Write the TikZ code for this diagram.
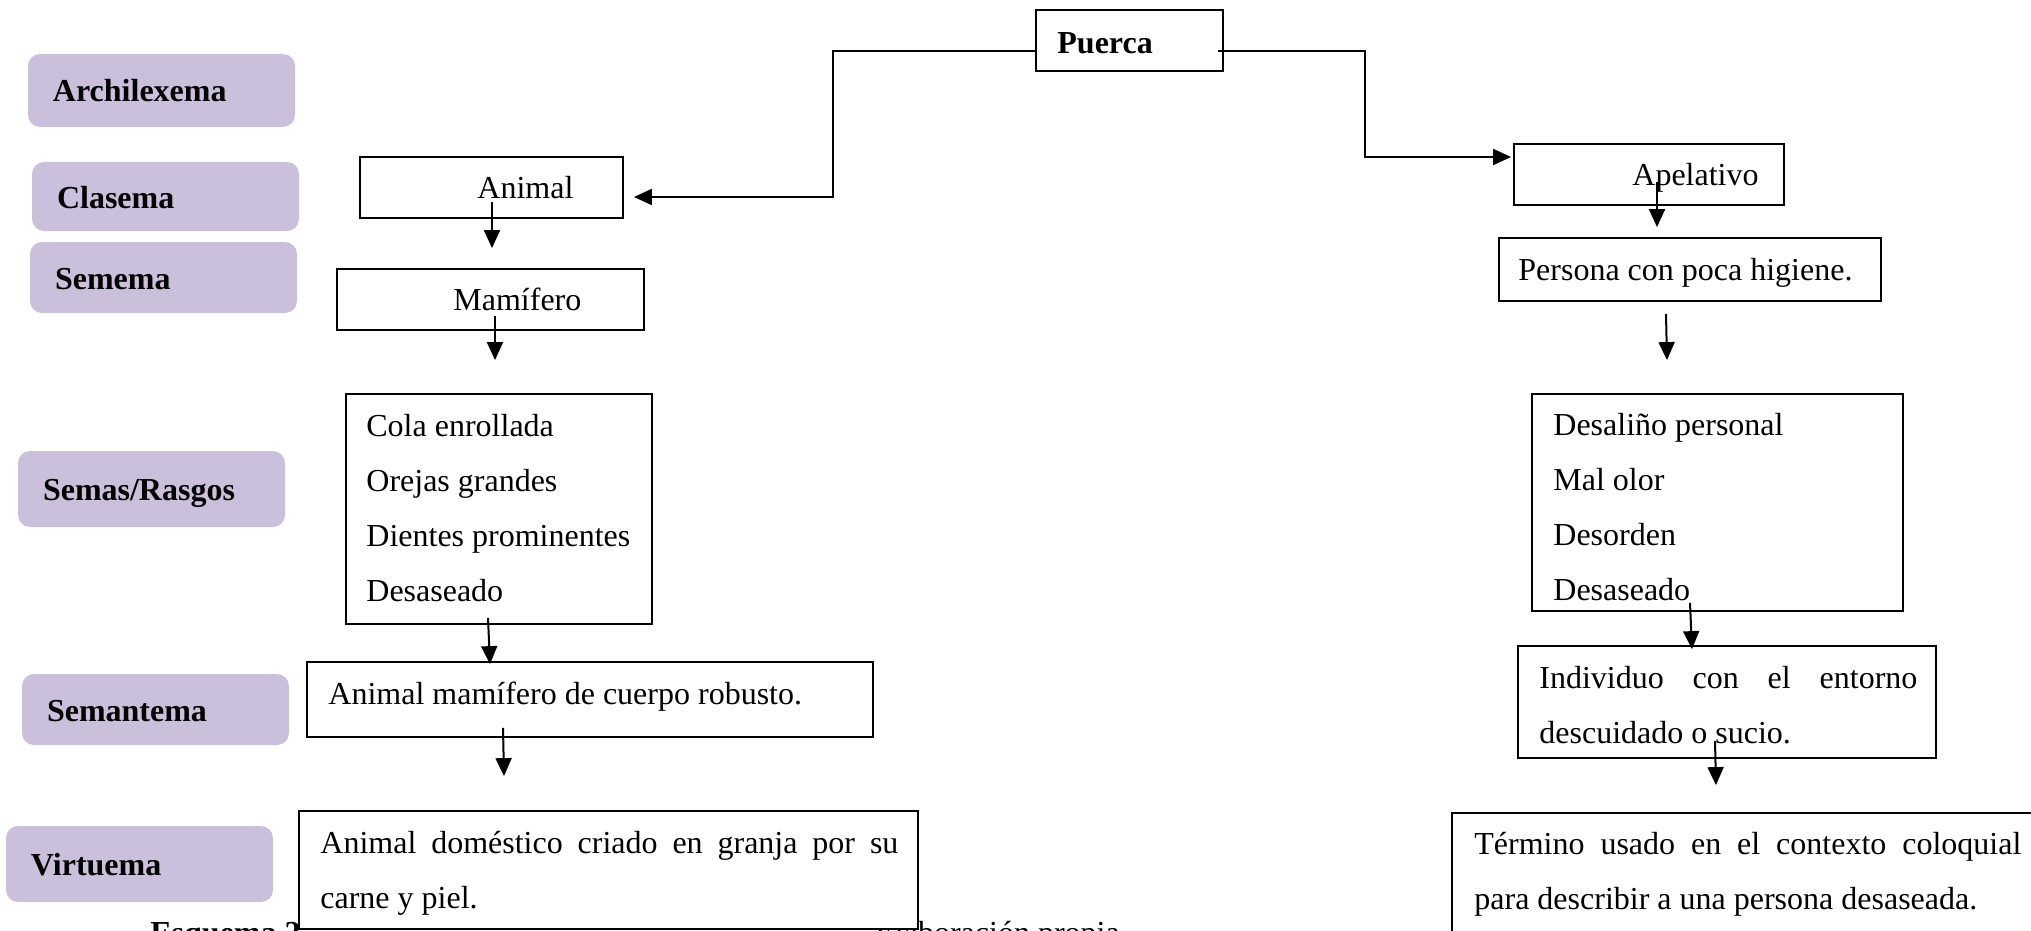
\documentclass[tikz,border=0pt]{standalone}
\usepackage{fontspec}
\setmainfont{Liberation Serif}
\usetikzlibrary{arrows.meta,calc}
\definecolor{labfill}{RGB}{203,192,219}
% keep the font's own interword spacing inside aligned nodes
\newcommand{\plainspaces}{\spaceskip=0pt\xspaceskip=0pt\relax}
\begin{document}
\begin{tikzpicture}[x=0.5pt,y=-0.5pt,
  lab/.style={fill=labfill, rounded corners=6pt, minimum width=133.5pt,
    inner xsep=12.5pt, inner ysep=0pt, text width=108.5pt, align=left,
    text height=12.5pt, text depth=1pt,
    font=\fontsize{16}{19}\selectfont\bfseries},
  box/.style={draw=black, line width=0.9pt, fill=white, inner sep=0pt},
  txt/.style={inner sep=0pt, anchor=base west, yshift=-0.6pt,
    font=\fontsize{16}{27.5}\selectfont},
  btxt/.style={txt, font=\fontsize{16}{19}\selectfont\bfseries},
  par/.style={txt, align=left},
  arr/.style={line width=1pt, -{Triangle[length=9pt,width=8pt]}},
]
\clip (0,0) rectangle (2031,931);

% level labels
\node[lab, minimum height=36.5pt] (archi)   at (161.5,90.5)  {Archilexema};
\node[lab, minimum height=34.5pt] (clas)    at (165.5,196.5) {Clasema};
\node[lab, minimum height=35.5pt] (sem)     at (163.5,277.5) {Semema};
\node[lab, minimum height=38pt]   (semasL)  at (151.5,489)   {\plainspaces Semas/Rasgos};
\node[lab, minimum height=35.5pt] (semantL) at (155.5,709.5) {Semantema};
\node[lab, minimum height=38pt]   (virtL)   at (139.5,864)   {Virtuema};

% caption line (partly covered by the last box)
\node[btxt] (capA) at (150,942) {Esquema 2};
\node[txt]  (capB) at (875,942) {Elaboración propia};

% boxes
\node[box, minimum width=93.5pt,  minimum height=30.5pt] (puerca)    at (1129.5,40.5) {};
\node[box, minimum width=131.5pt, minimum height=30.5pt] (animal)    at (491.5,187.5) {};
\node[box, minimum width=153.5pt, minimum height=30.5pt] (mamifero)  at (490.5,299.5) {};
\node[box, minimum width=153pt,   minimum height=115pt]  (semas)     at (499,509) {};
\node[box, minimum width=283pt,   minimum height=37.5pt] (semantema) at (590,699.5) {};
\node[box, minimum width=309.5pt, minimum height=59pt]   (virtuema)  at (608.5,870) {};
\node[box, minimum width=135pt,   minimum height=30.5pt] (apelativo) at (1649,174.5) {};
\node[box, minimum width=191pt,   minimum height=31.5pt] (persona)   at (1690,269.5) {};
\node[box, minimum width=185.5pt, minimum height=108.5pt](desalino)  at (1717.5,502.5) {};
\node[box, minimum width=209pt,   minimum height=56pt]   (individuo) at (1727,702) {};
\node[box, minimum width=296.5pt, minimum height=66pt]   (termino)   at (1748.5,879) {};

% box texts
\node[btxt] (puercaT)    at (1057,52)  {Puerca};
\node[txt]  (animalT)    at (477,197)  {Animal};
\node[txt]  (mamiferoT)  at (453,309)  {Mamífero};
\node[par, text width=140pt] (semasT) at (366,435)
  {\plainspaces Cola enrollada\\Orejas grandes\\Dientes prominentes\\Desaseado};
\node[txt]  (semantemaT) at (328,703)  {Animal mamífero de cuerpo robusto.};
\node[par, text width=289pt] (virtuemaT) at (320,852)
  {\plainspaces Animal\hfill doméstico\hfill criado\hfill en\hfill granja\hfill por\hfill su\\carne y piel.};
\node[txt]  (apelativoT) at (1632,184) {Apelativo};
\node[txt]  (personaT)   at (1518,279) {Persona con poca higiene.};
\node[par, text width=140pt] (desalinoT) at (1553,434)
  {\plainspaces Desaliño personal\\Mal olor\\Desorden\\Desaseado};
\node[par, text width=189pt] (individuoT) at (1539,687)
  {\plainspaces Individuo\hfill con\hfill el\hfill entorno\\descuidado o sucio.};
\node[par, text width=273.5pt] (terminoT) at (1474,853)
  {\plainspaces Término\hfill usado\hfill en\hfill el\hfill contexto\hfill coloquial\\para describir a una persona desaseada.};

% branches from the archilexeme
\draw[arr] ($(puerca.west)+(0,10.5)$) -- ++(-202,0) |- ($(animal.east)+(10,9.5)$);
\draw[arr] ($(puerca.east)+(-6,10.5)$) -- ++(147,0) |- ($(apelativo.west)+(-2,-17.5)$);

% left chain
\draw[arr] ($(animal.south)+(0.5,-17)$)      -- ($(mamifero.north)+(1.5,-20)$);
\draw[arr] ($(mamifero.south)+(4.5,-15)$)    -- ($(semas.north)+(-4,-33)$);
\draw[arr] ($(semas.south)+(-11,-7)$)        -- ($(semantema.north)+(-100,3)$);
\draw[arr] ($(semantema.south)+(-87,-10)$)   -- ($(virtuema.north)+(-104.5,-34)$);

% right chain
\draw[arr] ($(apelativo.south)+(8,-24)$)     -- ($(persona.north)+(-33,-10)$);
\draw[arr] ($(persona.south)+(-24,12)$)      -- ($(desalino.north)+(-50.5,-33)$);
\draw[arr] ($(desalino.south)+(-27.5,-9)$)   -- ($(individuo.north)+(-35,4)$);
\draw[arr] ($(individuo.south)+(-12,-18)$)   -- ($(termino.north)+(-32.5,-27)$);
\end{tikzpicture}
\end{document}
